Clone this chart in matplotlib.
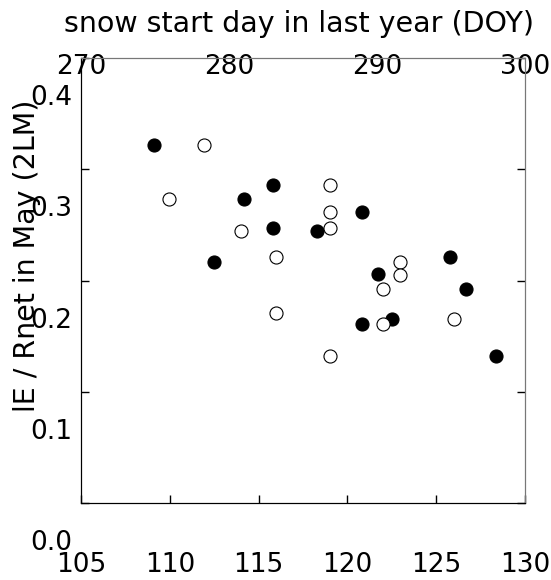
import numpy as np
import matplotlib
matplotlib.use("Agg")
import matplotlib.pyplot as plt
from matplotlib.transforms import ScaledTranslation

# filled circles: against bottom axis (DOY in current year)
x_fill = [109.1, 114.2, 115.8, 115.8, 112.5, 118.3, 120.8, 121.7, 125.8, 126.7, 120.8, 122.5, 128.35]
y_fill = [0.3215, 0.2735, 0.2856, 0.2475, 0.2166, 0.2445, 0.2613, 0.2056, 0.2214, 0.1921, 0.1606, 0.1654, 0.1324]

# open circles: against top axis (snow start day in last year)
x_open = [278.33, 275.97, 280.79, 283.18, 283.18, 286.8, 286.8, 286.8, 291.57, 291.57, 290.4, 290.4, 295.2, 286.8]
y_open = [0.3215, 0.2735, 0.2445, 0.2214, 0.1705, 0.2858, 0.2613, 0.2475, 0.2164, 0.2052, 0.1921, 0.1606, 0.1657, 0.1324]

bottom_ticks = [105, 110, 115, 120, 125, 130]
top_ticks = [270, 280, 290, 300]
y_ticks = [0.0, 0.1, 0.2, 0.3, 0.4]

plt.rcParams['font.family'] = ['DejaVu Sans']
fs = 19
grey = '#777777'

fig = plt.figure(figsize=(5.51, 5.8), dpi=100)
ax = fig.add_axes([81/551, 77/580, 444/551, 445/580])
ax.set_xlim(105, 130)
ax.set_ylim(0, 0.4)
ax.set_xticks(bottom_ticks)
ax.set_yticks(y_ticks)
ax.set_xticklabels([str(t) for t in bottom_ticks])
ax.set_yticklabels(["%.1f" % t for t in y_ticks])
ax.tick_params(axis='x', direction='in', length=6, width=1, labelsize=fs, pad=35)
ax.tick_params(axis='y', direction='in', length=6, width=1, labelsize=fs, pad=6,
               right=True, labelright=False)
for t in ax.yaxis.get_major_ticks():
    t.tick2line.set_color(grey)
ax.spines['right'].set_color(grey)
ax.spines['top'].set_color(grey)

# y tick labels sit lower than their ticks
off = ScaledTranslation(0, -37/100, fig.dpi_scale_trans)
for lab in ax.get_yticklabels():
    lab.set_transform(lab.get_transform() + off)

ax.plot(x_fill, y_fill, 'o', ms=9.4, mfc='black', mec='black', mew=0.8)

ax2 = ax.twiny()
ax2.set_xlim(270, 300)
ax2.set_xticks(top_ticks)
ax2.tick_params(axis='x', length=0, labelsize=fs, pad=-16)
ax2.plot(x_open, y_open, 'o', ms=9.4, mfc='white', mec='black', mew=0.8)
ax2.spines['right'].set_color(grey)
ax2.spines['top'].set_color(grey)

ax2.set_xlabel("snow start day in last year (DOY)", fontsize=20.5, va='bottom')
ax2.xaxis.set_label_coords(0.49, 1.045)

ax.set_ylabel("lE / Rnet in May (2LM)", fontsize=20.5, va='center')
ax.yaxis.set_label_coords(-0.122, 0.555)

fig.savefig("out.png", dpi=100)
